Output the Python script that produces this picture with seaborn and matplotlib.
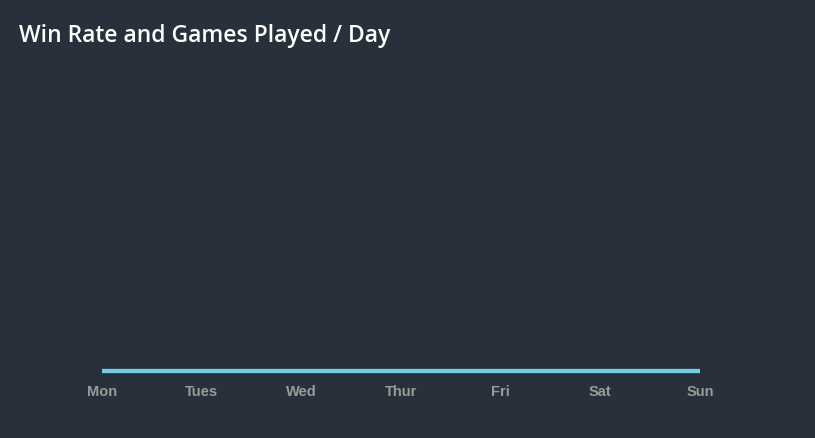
import matplotlib
matplotlib.use("Agg")
import matplotlib.pyplot as plt
import seaborn as sns
import pandas as pd

days = ["Mon", "Tues", "Wed", "Thur", "Fri", "Sat", "Sun"]
win_rate = [0, 0, 0, 0, 0, 0, 0]
games_played = [0, 0, 0, 0, 0, 0, 0]

BG = "#28313b"
sns.set_theme(style="dark")
plt.rcParams["font.family"] = ["DejaVu Sans"]

df = pd.DataFrame({"day": days, "win_rate": win_rate, "games": games_played})
df["pos"] = range(len(days))

fig = plt.figure(figsize=(8.15, 4.38), dpi=100, facecolor=BG)
ax = fig.add_axes([102/815, (438-371)/438, (700-102)/815, (371-70)/438])
ax.set_facecolor(BG)

sns.lineplot(data=df, x="pos", y="games", ax=ax, color="#72cde4", linewidth=3,
             solid_capstyle="butt", legend=False)
sns.lineplot(data=df, x="pos", y="win_rate", ax=ax, color="#72cde4", linewidth=3,
             solid_capstyle="butt", legend=False)
for ln in ax.lines:
    ln.set_clip_on(False)

ax.set_xlim(0, len(days) - 1)
ax.set_ylim(0, 1)
ax.set_xticks(range(len(days)))
ax.set_xticklabels(days, family="Liberation Sans", fontweight="bold",
                   fontsize=10.5, color="#9a9a9a")
ax.tick_params(axis="x", length=0, pad=10)
ax.set_yticks([])
ax.set_xlabel("")
ax.set_ylabel("")
ax.grid(False)
for s in ax.spines.values():
    s.set_visible(False)

fig.text(19/815, 1 - 35.5/438, "Win Rate and Games Played / Day", color="white",
         fontsize=16.5, family="Open Sans", fontweight="semibold", va="center", ha="left")

fig.savefig("out.png", dpi=100, facecolor=BG)
